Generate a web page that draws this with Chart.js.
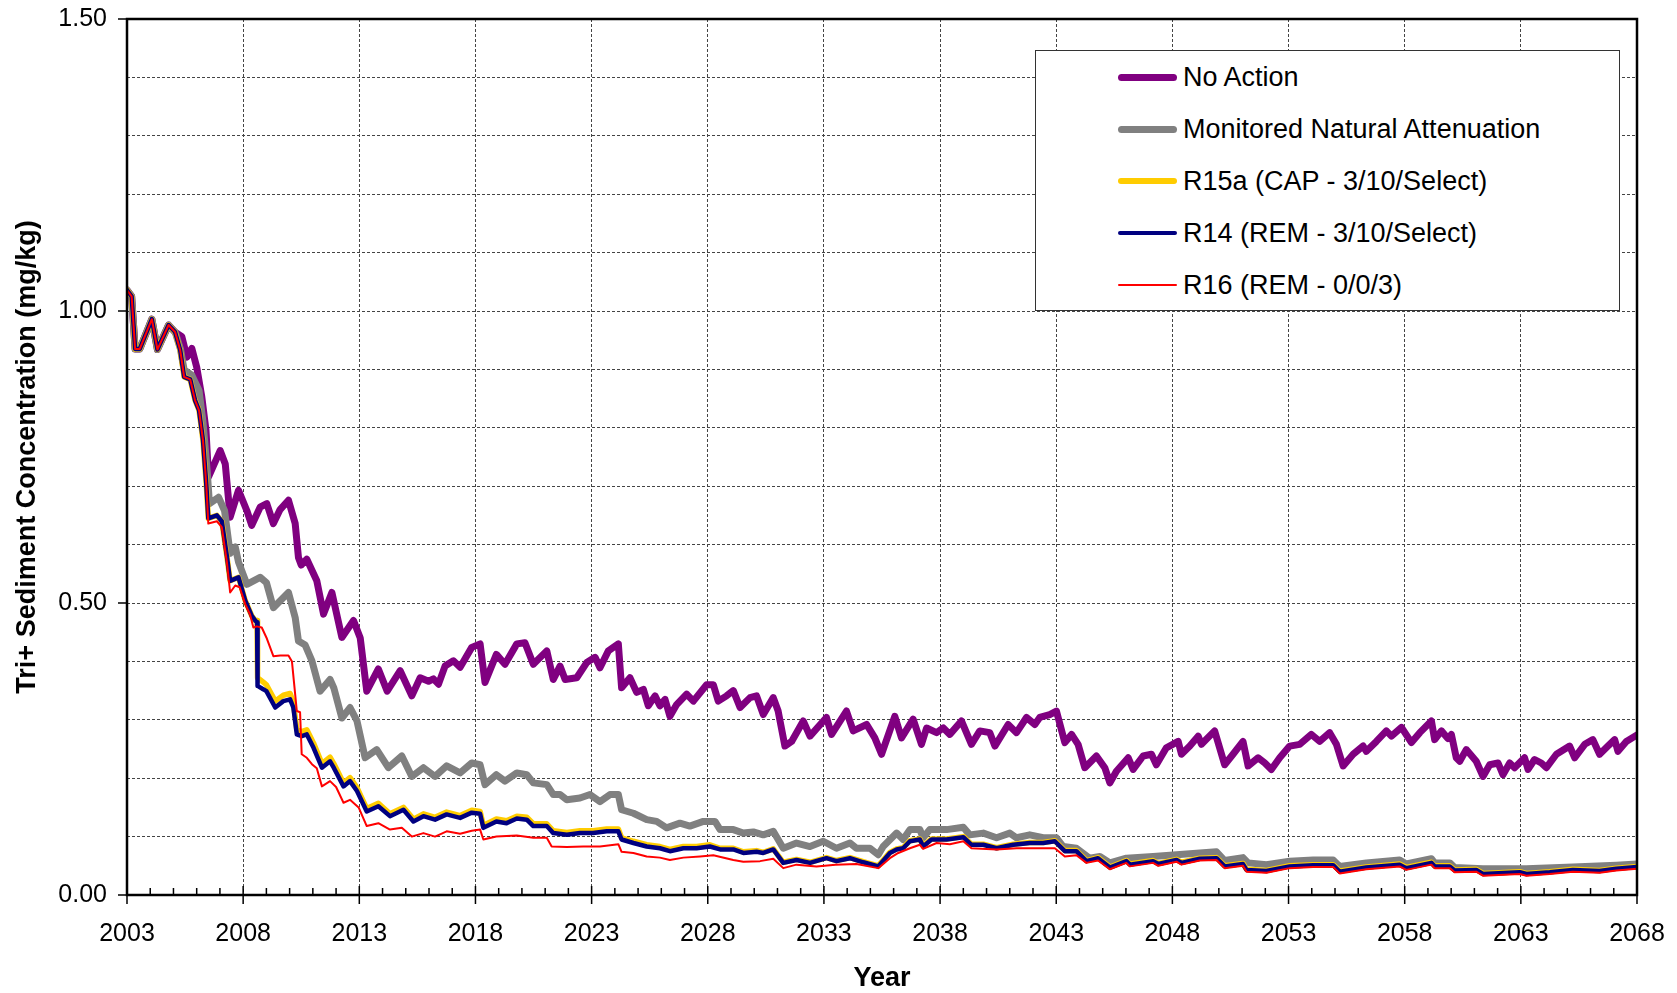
<!DOCTYPE html>
<html>
<head>
<meta charset="utf-8">
<script src="https://cdn.jsdelivr.net/npm/chart.js@4.4.1/dist/chart.umd.min.js"></script>
<style>
  body { margin: 0; background: #fff; font-family: "Liberation Sans", Arial, sans-serif; }
  #wrap { position: relative; width: 1677px; height: 993px; }
  #legend { position: absolute; left: 1035px; top: 50px; width: 585px; height: 261px;
    border: 1px solid #333; background: #fff; box-sizing: border-box; }
  .row { position: absolute; left: 0; height: 0; }
  .swatch { position: absolute; left: 82px; width: 59px; border-radius: 4px; }
  .label { position: absolute; left: 147px; white-space: nowrap; font-size: 27px; line-height: 30px; top: -15px; color: #000; }
</style>
</head>
<body>
<div id="wrap">
  <canvas id="chart" width="1677" height="993"></canvas>
  <div id="legend"></div>
</div>
<script>
// tick values
var yearTicks = [2003, 2008, 2013, 2018, 2023, 2028, 2033, 2038, 2043, 2048, 2053, 2058, 2063, 2068]
var yGrid = [0, 0.1, 0.2, 0.3, 0.4, 0.5, 0.6, 0.7, 0.8, 0.9, 1.0, 1.1, 1.2, 1.3, 1.4, 1.5]
var yLabelTicks = [0, 0.5, 1.0, 1.5]

var seriesNames = ["No Action", "Monitored Natural Attenuation", "R15a (CAP - 3/10/Select)", "R14 (REM - 3/10/Select)", "R16 (REM - 0/0/3)"]

// [year, mg/kg]
var noAction = [[2003.00,1.036],[2003.20,1.025],[2003.35,0.935],[2003.55,0.935],[2004.07,0.986],[2004.31,0.934],[2004.79,0.976],[2005.07,0.964],[2005.36,0.956],[2005.58,0.921],[2005.79,0.936],[2006.00,0.904],[2006.22,0.853],[2006.40,0.796],[2006.51,0.716],[2007.01,0.761],[2007.23,0.738],[2007.44,0.647],[2007.80,0.693],[2008.16,0.658],[2008.37,0.633],[2008.73,0.664],[2009.02,0.670],[2009.30,0.636],[2009.59,0.660],[2009.95,0.676],[2010.24,0.636],[2010.38,0.578],[2010.50,0.565],[2010.74,0.575],[2011.17,0.538],[2011.46,0.481],[2011.82,0.518],[2012.25,0.441],[2012.75,0.470],[2013.04,0.440],[2013.32,0.349],[2013.82,0.387],[2014.20,0.349],[2014.76,0.384],[2015.26,0.341],[2015.62,0.372],[2015.98,0.366],[2016.19,0.370],[2016.41,0.361],[2016.69,0.392],[2017.05,0.401],[2017.34,0.390],[2017.84,0.424],[2018.20,0.430],[2018.41,0.364],[2018.90,0.412],[2019.27,0.395],[2019.78,0.430],[2020.13,0.432],[2020.49,0.395],[2021.07,0.418],[2021.35,0.369],[2021.64,0.392],[2021.86,0.369],[2022.36,0.372],[2022.79,0.398],[2023.15,0.407],[2023.36,0.389],[2023.72,0.418],[2024.15,0.430],[2024.29,0.355],[2024.65,0.372],[2024.94,0.347],[2025.23,0.352],[2025.44,0.324],[2025.73,0.341],[2025.94,0.324],[2026.16,0.335],[2026.37,0.306],[2026.66,0.326],[2027.09,0.344],[2027.38,0.332],[2027.95,0.360],[2028.24,0.360],[2028.45,0.332],[2028.81,0.341],[2029.10,0.350],[2029.39,0.321],[2029.82,0.338],[2030.10,0.341],[2030.39,0.309],[2030.82,0.338],[2031.03,0.315],[2031.32,0.255],[2031.61,0.263],[2032.11,0.298],[2032.40,0.272],[2033.11,0.304],[2033.33,0.275],[2033.97,0.315],[2034.26,0.281],[2034.84,0.292],[2035.19,0.269],[2035.48,0.241],[2036.05,0.306],[2036.34,0.269],[2036.84,0.301],[2037.20,0.258],[2037.42,0.286],[2037.85,0.278],[2038.14,0.286],[2038.42,0.275],[2038.92,0.298],[2039.35,0.258],[2039.71,0.281],[2040.14,0.278],[2040.36,0.255],[2040.93,0.292],[2041.29,0.278],[2041.72,0.304],[2042.08,0.292],[2042.29,0.304],[2042.72,0.309],[2043.01,0.315],[2043.37,0.261],[2043.66,0.275],[2043.94,0.258],[2044.23,0.218],[2044.73,0.238],[2045.09,0.218],[2045.31,0.192],[2045.59,0.212],[2046.10,0.235],[2046.31,0.215],[2046.74,0.238],[2047.10,0.241],[2047.31,0.223],[2047.74,0.252],[2048.25,0.263],[2048.39,0.241],[2048.75,0.255],[2049.11,0.272],[2049.25,0.258],[2049.82,0.281],[2050.25,0.223],[2050.61,0.241],[2051.04,0.263],[2051.26,0.221],[2051.69,0.235],[2051.98,0.226],[2052.26,0.215],[2052.62,0.235],[2053.05,0.255],[2053.48,0.258],[2053.98,0.275],[2054.34,0.263],[2054.77,0.278],[2055.06,0.258],[2055.35,0.221],[2055.78,0.241],[2056.21,0.255],[2056.35,0.246],[2056.78,0.263],[2057.21,0.281],[2057.43,0.272],[2057.86,0.287],[2058.29,0.261],[2058.65,0.278],[2059.15,0.298],[2059.29,0.266],[2059.58,0.281],[2059.86,0.268],[2060.01,0.275],[2060.22,0.235],[2060.37,0.229],[2060.65,0.249],[2061.08,0.229],[2061.37,0.203],[2061.66,0.223],[2062.02,0.226],[2062.23,0.206],[2062.52,0.226],[2062.73,0.218],[2063.16,0.235],[2063.31,0.215],[2063.59,0.232],[2063.88,0.226],[2064.10,0.218],[2064.53,0.241],[2065.10,0.255],[2065.32,0.235],[2065.75,0.258],[2066.10,0.266],[2066.39,0.241],[2066.75,0.255],[2067.04,0.266],[2067.18,0.246],[2067.54,0.263],[2068.00,0.274]]

var mna = [[2003.00,1.036],[2003.20,1.025],[2003.35,0.935],[2003.55,0.935],[2004.07,0.986],[2004.31,0.934],[2004.79,0.976],[2005.07,0.964],[2005.30,0.935],[2005.46,0.899],[2005.79,0.890],[2006.10,0.864],[2006.27,0.810],[2006.45,0.727],[2006.55,0.670],[2006.94,0.681],[2007.20,0.658],[2007.44,0.585],[2007.66,0.596],[2007.80,0.570],[2008.16,0.532],[2008.73,0.544],[2009.00,0.535],[2009.30,0.492],[2009.95,0.518],[2010.24,0.475],[2010.38,0.435],[2010.67,0.428],[2010.96,0.401],[2011.31,0.349],[2011.74,0.369],[2011.90,0.355],[2012.25,0.303],[2012.60,0.321],[2012.90,0.298],[2013.25,0.235],[2013.75,0.249],[2014.25,0.218],[2014.83,0.238],[2015.26,0.203],[2015.76,0.218],[2016.26,0.203],[2016.76,0.221],[2017.34,0.209],[2017.84,0.226],[2018.20,0.223],[2018.41,0.189],[2018.90,0.206],[2019.27,0.195],[2019.78,0.209],[2020.21,0.206],[2020.49,0.192],[2021.07,0.189],[2021.35,0.172],[2021.64,0.172],[2021.93,0.163],[2022.50,0.166],[2022.93,0.172],[2023.36,0.160],[2023.79,0.172],[2024.15,0.172],[2024.29,0.146],[2024.80,0.140],[2025.37,0.129],[2025.80,0.126],[2026.23,0.115],[2026.80,0.123],[2027.23,0.118],[2027.81,0.126],[2028.31,0.126],[2028.53,0.112],[2029.10,0.112],[2029.53,0.106],[2029.96,0.108],[2030.39,0.103],[2030.82,0.109],[2031.25,0.080],[2031.82,0.089],[2032.40,0.083],[2032.97,0.092],[2033.54,0.080],[2034.12,0.089],[2034.40,0.080],[2034.98,0.080],[2035.34,0.069],[2035.55,0.083],[2036.13,0.106],[2036.41,0.095],[2036.70,0.112],[2037.13,0.112],[2037.27,0.098],[2037.56,0.112],[2038.28,0.112],[2039.00,0.116],[2039.28,0.103],[2039.86,0.106],[2040.43,0.098],[2041.00,0.106],[2041.29,0.098],[2041.86,0.103],[2042.44,0.098],[2043.01,0.098],[2043.30,0.083],[2043.87,0.080],[2044.44,0.063],[2044.88,0.066],[2045.31,0.055],[2046.02,0.063],[2047.17,0.066],[2048.18,0.069],[2049.18,0.072],[2049.90,0.074],[2050.25,0.059],[2051.04,0.064],[2051.26,0.055],[2052.05,0.052],[2053.05,0.058],[2054.06,0.060],[2054.92,0.060],[2055.20,0.049],[2056.35,0.055],[2057.78,0.060],[2058.07,0.053],[2059.15,0.062],[2059.29,0.055],[2059.94,0.055],[2060.15,0.047],[2061.37,0.045],[2063.24,0.045],[2065.24,0.048],[2067.11,0.051],[2068.00,0.053]]

var r15a = [[2003.00,1.036],[2003.20,1.025],[2003.35,0.935],[2003.55,0.935],[2004.07,0.986],[2004.31,0.934],[2004.79,0.976],[2005.07,0.964],[2005.29,0.933],[2005.46,0.887],[2005.72,0.883],[2005.93,0.847],[2006.10,0.830],[2006.27,0.779],[2006.41,0.705],[2006.50,0.645],[2006.87,0.650],[2007.08,0.640],[2007.30,0.580],[2007.44,0.538],[2007.80,0.544],[2008.09,0.504],[2008.37,0.478],[2008.52,0.470],[2008.60,0.470],[2008.62,0.372],[2008.88,0.364],[2009.00,0.360],[2009.38,0.332],[2009.73,0.342],[2010.02,0.345],[2010.16,0.330],[2010.31,0.283],[2010.52,0.280],[2010.74,0.283],[2011.03,0.260],[2011.39,0.225],[2011.74,0.236],[2011.90,0.225],[2012.32,0.192],[2012.60,0.201],[2012.90,0.184],[2013.32,0.148],[2013.82,0.157],[2014.32,0.139],[2014.90,0.150],[2015.33,0.130],[2015.76,0.139],[2016.26,0.133],[2016.76,0.142],[2017.34,0.136],[2017.84,0.145],[2018.20,0.143],[2018.34,0.119],[2018.90,0.130],[2019.34,0.127],[2019.78,0.135],[2020.21,0.133],[2020.49,0.122],[2021.07,0.122],[2021.35,0.110],[2021.93,0.107],[2022.50,0.110],[2023.07,0.110],[2023.65,0.113],[2024.15,0.113],[2024.29,0.098],[2024.80,0.092],[2025.37,0.086],[2025.94,0.083],[2026.37,0.078],[2026.95,0.083],[2027.52,0.083],[2028.09,0.086],[2028.53,0.080],[2029.10,0.080],[2029.53,0.074],[2030.10,0.076],[2030.39,0.073],[2030.82,0.079],[2031.25,0.056],[2031.82,0.061],[2032.40,0.056],[2033.11,0.064],[2033.54,0.059],[2034.12,0.064],[2034.69,0.057],[2035.34,0.050],[2035.84,0.073],[2036.13,0.079],[2036.41,0.081],[2036.70,0.093],[2037.13,0.096],[2037.27,0.084],[2037.63,0.096],[2038.28,0.096],[2039.00,0.100],[2039.35,0.087],[2039.86,0.087],[2040.43,0.081],[2041.15,0.087],[2041.86,0.090],[2042.44,0.090],[2042.94,0.093],[2043.37,0.076],[2043.87,0.076],[2044.30,0.059],[2044.80,0.064],[2045.31,0.048],[2046.02,0.059],[2046.17,0.053],[2047.17,0.059],[2047.39,0.054],[2048.18,0.061],[2048.39,0.056],[2049.18,0.063],[2049.90,0.064],[2050.25,0.050],[2051.04,0.054],[2051.19,0.044],[2052.05,0.042],[2053.05,0.050],[2054.06,0.052],[2054.92,0.052],[2055.20,0.041],[2056.35,0.048],[2057.78,0.053],[2058.07,0.047],[2059.15,0.056],[2059.29,0.050],[2059.94,0.050],[2060.15,0.043],[2061.08,0.044],[2061.37,0.037],[2062.95,0.040],[2063.24,0.037],[2064.24,0.040],[2065.24,0.044],[2066.39,0.042],[2067.11,0.046],[2068.00,0.049]]

var r14 = [[2003.00,1.036],[2003.20,1.025],[2003.35,0.935],[2003.55,0.935],[2004.07,0.986],[2004.31,0.934],[2004.79,0.976],[2005.07,0.964],[2005.29,0.933],[2005.46,0.887],[2005.72,0.883],[2005.93,0.847],[2006.10,0.830],[2006.27,0.779],[2006.41,0.705],[2006.50,0.645],[2006.87,0.650],[2007.08,0.640],[2007.30,0.580],[2007.44,0.538],[2007.80,0.544],[2008.09,0.504],[2008.37,0.478],[2008.52,0.470],[2008.60,0.467],[2008.62,0.358],[2008.88,0.352],[2009.00,0.349],[2009.38,0.321],[2009.73,0.332],[2010.02,0.335],[2010.16,0.321],[2010.31,0.275],[2010.52,0.272],[2010.74,0.275],[2011.03,0.252],[2011.39,0.218],[2011.74,0.229],[2011.90,0.218],[2012.32,0.186],[2012.60,0.195],[2012.90,0.178],[2013.32,0.143],[2013.82,0.152],[2014.32,0.135],[2014.90,0.146],[2015.33,0.126],[2015.76,0.135],[2016.26,0.129],[2016.76,0.138],[2017.34,0.132],[2017.84,0.141],[2018.20,0.139],[2018.34,0.115],[2018.90,0.126],[2019.34,0.123],[2019.78,0.131],[2020.21,0.129],[2020.49,0.118],[2021.07,0.118],[2021.35,0.106],[2021.93,0.103],[2022.50,0.106],[2023.07,0.106],[2023.65,0.109],[2024.15,0.109],[2024.29,0.095],[2024.80,0.089],[2025.37,0.083],[2025.94,0.080],[2026.37,0.075],[2026.95,0.080],[2027.52,0.080],[2028.09,0.083],[2028.53,0.078],[2029.10,0.078],[2029.53,0.072],[2030.10,0.074],[2030.39,0.072],[2030.82,0.078],[2031.25,0.055],[2031.82,0.060],[2032.40,0.055],[2033.11,0.063],[2033.54,0.058],[2034.12,0.063],[2034.69,0.056],[2035.34,0.049],[2035.84,0.072],[2036.13,0.078],[2036.41,0.080],[2036.70,0.092],[2037.13,0.095],[2037.27,0.083],[2037.63,0.095],[2038.28,0.095],[2039.00,0.099],[2039.35,0.086],[2039.86,0.086],[2040.43,0.080],[2041.15,0.086],[2041.86,0.089],[2042.44,0.089],[2042.94,0.092],[2043.37,0.075],[2043.87,0.075],[2044.30,0.058],[2044.80,0.063],[2045.31,0.047],[2046.02,0.058],[2046.17,0.052],[2047.17,0.058],[2047.39,0.053],[2048.18,0.060],[2048.39,0.055],[2049.18,0.062],[2049.90,0.063],[2050.25,0.049],[2051.04,0.053],[2051.19,0.043],[2052.05,0.041],[2053.05,0.049],[2054.06,0.051],[2054.92,0.051],[2055.20,0.040],[2056.35,0.047],[2057.78,0.052],[2058.07,0.046],[2059.15,0.055],[2059.29,0.049],[2059.94,0.049],[2060.15,0.042],[2061.08,0.043],[2061.37,0.036],[2062.95,0.039],[2063.24,0.036],[2064.24,0.039],[2065.24,0.043],[2066.39,0.041],[2067.11,0.045],[2068.00,0.048]]

var r16 = [[2003.00,1.036],[2003.20,1.025],[2003.35,0.935],[2003.55,0.935],[2004.07,0.986],[2004.31,0.934],[2004.79,0.976],[2005.07,0.964],[2005.29,0.933],[2005.46,0.887],[2005.72,0.883],[2005.93,0.847],[2006.10,0.830],[2006.27,0.779],[2006.41,0.705],[2006.50,0.636],[2006.87,0.640],[2007.08,0.630],[2007.30,0.570],[2007.44,0.518],[2007.66,0.530],[2007.85,0.527],[2008.09,0.498],[2008.30,0.480],[2008.44,0.458],[2008.58,0.460],[2008.80,0.458],[2009.00,0.441],[2009.30,0.409],[2009.60,0.410],[2009.95,0.410],[2010.10,0.400],[2010.31,0.315],[2010.45,0.313],[2010.52,0.241],[2010.74,0.235],[2010.96,0.224],[2011.17,0.217],[2011.39,0.186],[2011.74,0.195],[2012.00,0.185],[2012.32,0.158],[2012.60,0.163],[2012.97,0.150],[2013.32,0.118],[2013.82,0.123],[2014.32,0.112],[2014.83,0.115],[2015.26,0.100],[2015.76,0.106],[2016.26,0.100],[2016.76,0.109],[2017.34,0.105],[2017.84,0.110],[2018.20,0.112],[2018.34,0.095],[2018.90,0.100],[2019.78,0.102],[2020.49,0.098],[2021.07,0.098],[2021.28,0.083],[2021.93,0.082],[2022.64,0.083],[2023.36,0.083],[2024.15,0.087],[2024.29,0.074],[2024.80,0.072],[2025.37,0.066],[2025.94,0.064],[2026.37,0.060],[2026.95,0.064],[2027.67,0.066],[2028.24,0.068],[2029.10,0.060],[2029.53,0.057],[2030.25,0.058],[2030.82,0.062],[2031.25,0.046],[2031.82,0.052],[2032.68,0.049],[2033.50,0.052],[2034.40,0.053],[2035.34,0.046],[2035.84,0.063],[2036.20,0.072],[2036.70,0.080],[2037.13,0.086],[2037.27,0.079],[2037.85,0.089],[2038.42,0.087],[2039.00,0.092],[2039.35,0.080],[2040.43,0.078],[2041.29,0.080],[2042.16,0.080],[2042.94,0.080],[2043.37,0.066],[2043.87,0.068],[2044.30,0.055],[2044.80,0.059],[2045.31,0.044],[2046.02,0.055],[2046.17,0.049],[2047.17,0.055],[2047.39,0.050],[2048.18,0.057],[2048.39,0.052],[2049.18,0.059],[2049.90,0.060],[2050.25,0.046],[2051.04,0.050],[2051.19,0.040],[2052.05,0.038],[2053.05,0.046],[2054.06,0.048],[2054.92,0.048],[2055.20,0.037],[2056.35,0.044],[2057.78,0.049],[2058.07,0.043],[2059.15,0.052],[2059.29,0.046],[2059.94,0.046],[2060.15,0.039],[2061.08,0.040],[2061.37,0.033],[2062.95,0.036],[2063.24,0.033],[2064.24,0.036],[2065.24,0.040],[2066.39,0.038],[2067.11,0.042],[2068.00,0.045]]

var colors = ["#800080", "#808080", "#FFCC00", "#000080", "#FF0000"]
var widths = [7, 7, 5.5, 4.5, 2]

var allSeries = [noAction, mna, r15a, r14, r16]
var font = '"Liberation Sans", Arial, sans-serif'

var datasets = allSeries.map(function(s, i) {
	return {
		label: seriesNames[i],
		data: s.map(function(p) { return {x: p[0], y: p[1]} }),
		borderColor: colors[i],
		backgroundColor: colors[i],
		borderWidth: widths[i],
		pointRadius: 0,
		tension: 0,
		borderJoinStyle: 'round',
		borderCapStyle: 'round',
		order: allSeries.length - i
	}
})

// frame plus the Excel-style tick marks
var frameTicks = {
	id: 'frameTicks',
	afterDatasetsDraw: function(chart) {
		var ctx = chart.ctx, a = chart.chartArea
		var x = chart.scales.x, y = chart.scales.y
		ctx.save()
		ctx.strokeStyle = '#000'
		ctx.lineWidth = 1.5
		ctx.beginPath()
		for (var yr = 2003; yr <= 2068; yr++) {
			var px = x.getPixelForValue(yr)
			ctx.moveTo(px, a.bottom)
			ctx.lineTo(px, a.bottom - 7)
		}
		yearTicks.forEach(function(yr) {
			var px = x.getPixelForValue(yr)
			ctx.moveTo(px, a.bottom - 9)
			ctx.lineTo(px, a.bottom + 9)
		})
		yLabelTicks.forEach(function(v) {
			var py = y.getPixelForValue(v)
			ctx.moveTo(a.left - 9, py)
			ctx.lineTo(a.left, py)
		})
		ctx.stroke()
		ctx.lineWidth = 2.5
		ctx.strokeRect(a.left, a.top, a.right - a.left, a.bottom - a.top)
		ctx.restore()
	}
}

new Chart(document.getElementById('chart'), {
	type: 'line',
	data: { datasets: datasets },
	plugins: [frameTicks],
	options: {
		responsive: false,
		animation: false,
		layout: { padding: { left: 0, top: 19, right: 40, bottom: 0 } },
		plugins: { legend: { display: false }, tooltip: { enabled: false } },
		scales: {
			x: {
				type: 'linear',
				min: 2003,
				max: 2068,
				afterBuildTicks: function(scale) {
					scale.ticks = yearTicks.map(function(v) { return {value: v} })
				},
				afterFit: function(scale) { scale.height = 98 },
				grid: { color: '#444', lineWidth: 1, drawTicks: true, tickLength: 21, tickColor: 'rgba(0,0,0,0)' },
				border: { display: false, dash: [3, 2] },
				ticks: {
					autoSkip: false,
					maxRotation: 0,
					padding: 3,
					color: '#000',
					font: { family: font, size: 25 },
					callback: function(v) { return String(v) }
				},
				title: {
					display: true,
					text: 'Year',
					color: '#000',
					padding: { top: 0, bottom: 1 },
					font: { family: font, size: 27, weight: 'bold', lineHeight: 1.0 }
				}
			},
			y: {
				min: 0,
				max: 1.5,
				afterBuildTicks: function(scale) {
					scale.ticks = yGrid.map(function(v) { return {value: v} })
				},
				afterFit: function(scale) { scale.width = 127 },
				grid: { color: '#444', lineWidth: 1, drawTicks: true, tickLength: 17, tickColor: 'rgba(0,0,0,0)' },
				border: { display: false, dash: [3, 2] },
				ticks: {
					autoSkip: false,
					padding: 3,
					color: '#000',
					font: { family: font, size: 25 },
					callback: function(v) {
						return yLabelTicks.some(function(t) { return Math.abs(t - v) < 1e-6 }) ? v.toFixed(2) : ''
					}
				},
				title: {
					display: true,
					text: 'Tri+ Sediment Concentration (mg/kg)',
					color: '#000',
					padding: { top: 11, bottom: 0 },
					font: { family: font, size: 27, weight: 'bold' }
				}
			}
		}
	}
})

// legend box drawn in the upper right of the plot
var legend = document.getElementById('legend')
seriesNames.forEach(function(name, i) {
	var row = document.createElement('div')
	row.className = 'row'
	row.style.top = (26 + i * 52) + 'px'
	var sw = document.createElement('div')
	sw.className = 'swatch'
	sw.style.height = widths[i] + 'px'
	sw.style.top = (-widths[i] / 2) + 'px'
	sw.style.background = colors[i]
	var lab = document.createElement('div')
	lab.className = 'label'
	lab.textContent = name
	row.appendChild(sw)
	row.appendChild(lab)
	legend.appendChild(row)
})
</script>
</body>
</html>
